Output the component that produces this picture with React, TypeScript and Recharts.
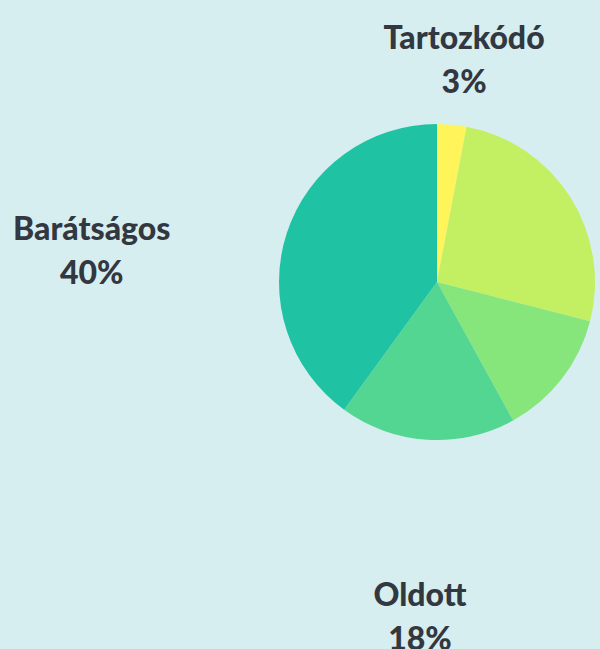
import { Pie, PieChart, Cell } from "recharts";

const names = ["Tartozkódó", "Nyitott", "Közvetlen", "Oldott", "Barátságos"];
const shares = [3, 26, 13, 18, 40];
const colors = ["#fff55a", "#c2f062", "#86e57b", "#52d691", "#1fc2a3"];
const labelled = ["Tartozkódó", "Oldott", "Barátságos"];

const data = names.map((name, i) => ({ name, value: shares[i] }));

// label distance from the centre and a small nudge, per slice
const labelPlace: Record<string, { r: number; dx: number; dy: number }> = {
  "Tartozkódó": { r: 224, dx: 6, dy: 0 },
  Oldott: { r: 334, dx: 4, dy: 0 },
  "Barátságos": { r: 363, dx: 0, dy: 80 },
};

const RAD = Math.PI / 180;

function renderLabel(props: any) {
  const { cx, cy, midAngle, name, value } = props;
  if (!labelled.includes(name)) return null;
  const p = labelPlace[name];
  const x = cx + p.r * Math.cos(-midAngle * RAD) + p.dx;
  const y = cy + p.r * Math.sin(-midAngle * RAD) + p.dy;
  return (
    <text
      x={x}
      y={y}
      textAnchor="middle"
      fill="#33373f"
      fontFamily="Lato, sans-serif"
      fontWeight={900}
      fontSize={32}
    >
      <tspan x={x} y={y - 22} dominantBaseline="central">{name}</tspan>
      <tspan x={x} y={y + 22} dominantBaseline="central">{value}%</tspan>
    </text>
  );
}

export default function App() {
  return (
    <div style={{ width: 600, height: 649, background: "#d6eef0" }}>
      <style>{"body{margin:0}"}</style>
      <PieChart width={600} height={649} margin={{ top: 0, right: 0, bottom: 0, left: 0 }}>
        <Pie
          data={data}
          dataKey="value"
          nameKey="name"
          cx={437}
          cy={282}
          outerRadius={158}
          startAngle={90}
          endAngle={-270}
          stroke="none"
          label={renderLabel}
          labelLine={false}
          isAnimationActive={false}
        >
          {data.map((d, i) => (
            <Cell key={d.name} fill={colors[i]} />
          ))}
        </Pie>
      </PieChart>
    </div>
  );
}
